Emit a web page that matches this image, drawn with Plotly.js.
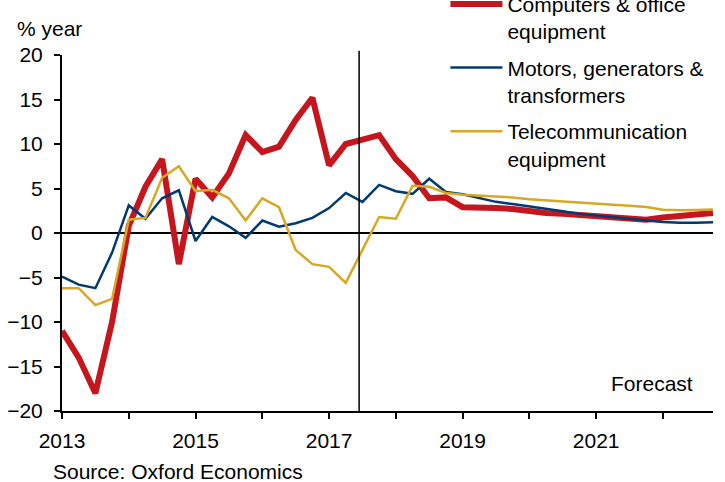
<!DOCTYPE html>
<html>
<head>
<meta charset="utf-8">
<script src="https://cdn.plot.ly/plotly-3.0.1.min.js"></script>
<style>html,body{margin:0;padding:0;background:#fff;}#chart{width:725px;height:482px;}</style>
</head>
<body>
<div id="chart"></div>
<script>
// Quarterly dates, 2013Q1 .. 2022Q4 (decimal years)
var quarters = [2013.00,2013.25,2013.50,2013.75,2014.00,2014.25,2014.50,2014.75,
  2015.00,2015.25,2015.50,2015.75,2016.00,2016.25,2016.50,2016.75,
  2017.00,2017.25,2017.50,2017.75,2018.00,2018.25,2018.50,2018.75,
  2019.00,2019.25,2019.50,2019.75,2020.00,2020.25,2020.50,2020.75,
  2021.00,2021.25,2021.50,2021.75,2022.00,2022.25,2022.50,2022.75];

var computers = [-11.0,-14.0,-18.0,-10.0,0.8,5.2,8.3,-3.5,
  6.1,4.0,6.7,11.0,9.1,9.7,12.7,15.2,
  7.6,10.0,10.5,11.0,8.3,6.4,3.9,4.0,
  2.9,2.9,2.8,2.7,2.45,2.25,2.15,2.0,
  1.9,1.75,1.65,1.5,1.75,1.9,2.05,2.25];

var motors = [-4.9,-5.8,-6.2,-2.2,3.1,1.6,3.9,4.8,
  -0.9,1.8,0.75,-0.55,1.4,0.7,1.1,1.7,
  2.8,4.5,3.5,5.4,4.7,4.4,6.1,4.6,
  4.35,3.95,3.5,3.25,3.0,2.75,2.45,2.15,
  1.95,1.75,1.55,1.4,1.25,1.15,1.15,1.2];

var telecom = [-6.2,-6.2,-8.1,-7.4,1.5,1.7,6.2,7.5,
  4.7,4.85,3.9,1.4,3.9,2.9,-1.9,-3.5,
  -3.8,-5.6,-1.9,1.8,1.6,5.3,5.2,4.5,
  4.3,4.2,4.1,4.0,3.8,3.67,3.52,3.37,
  3.26,3.18,3.07,2.92,2.62,2.55,2.58,2.65];

var seriesNames = ['Computers & office<br>equipment', 'Motors, generators &<br>transformers', 'Telecommunication<br>equipment'];
var yearTicks = [2013,2014,2015,2016,2017,2018,2019,2020,2021,2022];
var yearLabels = ['2013','','2015','','2017','','2019','','2021',''];
var yTicks = [-20,-15,-10,-5,0,5,10,15,20];
var forecastStart = 2017.45;

var FONT = 'Liberation Sans, Arial, sans-serif';
var FS = 21;

var traces = [
  {x: quarters, y: computers, name: seriesNames[0], type: 'scatter', mode: 'lines',
   line: {color: '#C4161C', width: 6}, legendgroup: 'a'},
  {x: quarters, y: motors, name: seriesNames[1], type: 'scatter', mode: 'lines',
   line: {color: '#003A70', width: 2.5}, legendgroup: 'b'},
  {x: quarters, y: telecom, name: seriesNames[2], type: 'scatter', mode: 'lines',
   line: {color: '#D8A824', width: 2.5}, legendgroup: 'c'}
];

var layout = {
  width: 725, height: 482,
  margin: {l: 62, r: 12, t: 55, b: 71, autoexpand: false},
  paper_bgcolor: '#fff', plot_bgcolor: '#fff',
  font: {family: FONT, size: FS, color: '#000'},
  showlegend: true,
  legend: {
    x: 0.589, xanchor: 'left', y: 1.2, yanchor: 'top',
    bgcolor: 'rgba(0,0,0,0)', borderwidth: 0,
    font: {family: FONT, size: FS, color: '#000'},
    valign: 'top', tracegroupgap: 6, itemwidth: 52
  },
  xaxis: {
    range: [2013, 2022.75], showgrid: false, zeroline: false,
    showline: true, linecolor: '#000', linewidth: 2,
    ticks: 'outside', ticklen: 6, tickwidth: 2, tickcolor: '#000',
    tickmode: 'array', tickvals: yearTicks, ticktext: yearLabels,
    ticklabelstandoff: 4,
    tickfont: {family: FONT, size: FS, color: '#000'}, fixedrange: true
  },
  yaxis: {
    range: [-20, 20], showgrid: false,
    zeroline: true, zerolinecolor: '#000', zerolinewidth: 2,
    showline: true, linecolor: '#000', linewidth: 2,
    ticks: 'outside', ticklen: 6, tickwidth: 2, tickcolor: '#000',
    tickmode: 'array', tickvals: yTicks,
    ticklabelstandoff: 7,
    tickfont: {family: FONT, size: FS, color: '#000'}, fixedrange: true
  },
  shapes: [
    {type: 'line', xref: 'x', yref: 'paper', x0: forecastStart, x1: forecastStart, y0: 0, y1: 1.012,
     line: {color: '#000', width: 1.5}}
  ],
  annotations: [
    {text: '% year', xref: 'paper', yref: 'paper', x: -0.072, y: 1.075, xanchor: 'left', yanchor: 'middle',
     showarrow: false, font: {family: FONT, size: FS, color: '#000'}},
    {text: 'Forecast', xref: 'paper', yref: 'paper', x: 0.973, y: 0.078, xanchor: 'right', yanchor: 'middle',
     showarrow: false, font: {family: FONT, size: FS, color: '#000'}},
    {text: 'Source: Oxford Economics', xref: 'paper', yref: 'paper', x: -0.017, y: -0.17, xanchor: 'left', yanchor: 'middle',
     showarrow: false, font: {family: FONT, size: FS, color: '#000'}}
  ]
};

Plotly.newPlot('chart', traces, layout, {displayModeBar: false, staticPlot: true});
</script>
</body>
</html>
